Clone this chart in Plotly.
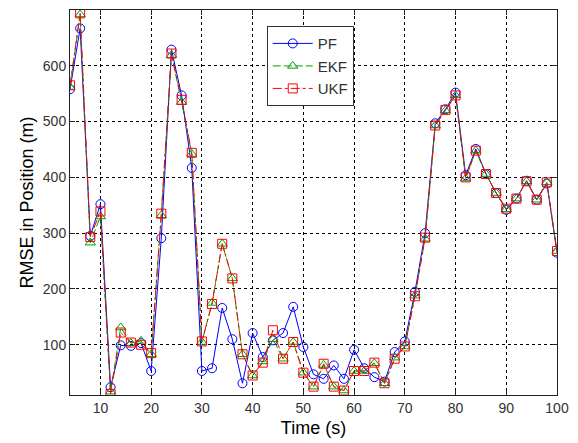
import plotly.graph_objects as go

time_s = list(range(4, 101, 2))

pf = [558, 667, 295, 352, 24, 99, 98, 103, 53, 291,
      629, 547, 417, 53, 58, 166, 110, 31, 121, 78,
      108, 121, 168, 96, 47, 39, 63, 39, 91, 58,
      42, 34, 87, 106, 195, 300, 497, 522, 552, 404,
      451, 406, 372, 342, 362, 394, 360, 389, 265]

ekf = [562, 692, 283, 330, 16, 131, 103, 107, 83, 332,
       619, 535, 442, 105, 175, 281, 219, 83, 45, 70,
       110, 75, 105, 50, 25, 64, 25, 18, 53, 53,
       67, 31, 77, 97, 188, 290, 493, 520, 547, 398,
       448, 406, 372, 343, 362, 393, 360, 391, 268]

ukf = [565, 694, 293, 339, 12, 122, 104, 100, 85, 335,
       622, 539, 444, 106, 173, 281, 219, 83, 45, 68,
       126, 75, 105, 50, 25, 66, 25, 18, 53, 53,
       68, 31, 75, 97, 187, 292, 493, 521, 547, 400,
       448, 406, 372, 344, 362, 393, 360, 391, 268]

x_ticks = list(range(10, 101, 10))
y_ticks = list(range(100, 601, 100))

fig = go.Figure()
fig.add_trace(go.Scatter(x=time_s, y=pf, name='PF', mode='lines+markers',
                         line=dict(color='#0000ff', width=1),
                         marker=dict(symbol='circle-open', size=9, color='#0000ff', line=dict(width=1))))
fig.add_trace(go.Scatter(x=time_s, y=ekf, name='EKF', mode='lines+markers',
                         line=dict(color='#00a000', width=1, dash='8px,3px'),
                         marker=dict(symbol='triangle-up-open', size=9, color='#00a000', line=dict(width=1))))
fig.add_trace(go.Scatter(x=time_s, y=ukf, name='UKF', mode='lines+markers',
                         line=dict(color='#ff0000', width=1, dash='dashdot'),
                         marker=dict(symbol='square-open', size=9, color='#ff0000', line=dict(width=1))))

axis_style = dict(showline=True, linecolor='#222222', linewidth=1, mirror='ticks',
                  ticks='inside', ticklen=5, tickcolor='#222222',
                  showgrid=True, gridcolor='black', gridwidth=1, griddash='3px,3px',
                  zeroline=False, tickfont=dict(size=14, color='#333333'))

fig.update_xaxes(range=[4, 100], tickvals=x_ticks,
                 title=dict(text='Time (s)', font=dict(size=18, color='black'), standoff=6),
                 **axis_style)
fig.update_yaxes(range=[10, 700], tickvals=y_ticks,
                 title=dict(text='RMSE in Position (m)', font=dict(size=18, color='black'), standoff=4),
                 **axis_style)

fig.update_layout(
    width=578,
    height=443,
    font=dict(family='Liberation Sans, Arial, sans-serif'),
    paper_bgcolor='white',
    plot_bgcolor='white',
    margin=dict(l=70, r=18, t=9, b=48),
    showlegend=True,
    legend=dict(x=0.404, y=0.958, xanchor='left', yanchor='top',
                bgcolor='white', bordercolor='#333333', borderwidth=1,
                font=dict(size=15, color='#333333'), tracegroupgap=0, itemwidth=40)
)

# the page body has a default 8px margin; drop it so the figure sits at 0,0
fig.write_html("out.html", config={'displayModeBar': False},
               post_script="document.body.style.margin='0';")
